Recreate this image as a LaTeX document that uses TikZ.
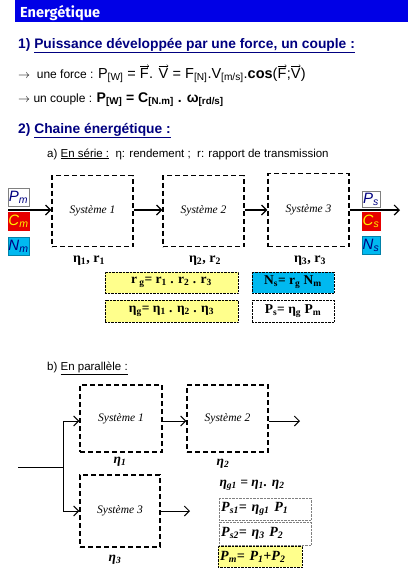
\documentclass[tikz,border=0pt]{standalone}
\usepackage{fontspec}
\setmainfont{Liberation Serif}
\setsansfont{Liberation Sans}
\newfontfamily\titlefont{Fira Sans}
\usetikzlibrary{arrows.meta}

\definecolor{titleblue}{RGB}{0,0,230}
\definecolor{headblue}{RGB}{0,0,128}
\definecolor{boxyellow}{RGB}{255,255,140}
\definecolor{boxcyan}{RGB}{0,185,240}
\definecolor{boxred}{RGB}{230,0,0}

% vector arrow drawn over a letter
\newcommand{\vv}[1]{\tikz[baseline=(v.base)]{\node[inner sep=0pt] (v) {#1};
    \draw[-{Straight Barb[length=1.5pt,width=3pt]}, line width=0.4pt]
      ([yshift=1.8pt,xshift=0.5pt]v.north west) -- ([yshift=1.8pt]v.north east);}}
\newcommand{\sub}[1]{\textsubscript{#1}}

\tikzset{
  sysbox/.style={draw, line width=1.3pt, dash pattern=on 5pt off 3pt,
    minimum width=81pt, minimum height=71pt, inner sep=0pt,
    font=\fontsize{11.5}{13}\selectfont\itshape},
  flow/.style={-{Straight Barb[length=5pt,width=10pt]}, line width=1.2pt},
  tag/.style={draw=gray, minimum width=21pt, minimum height=18pt, inner sep=0pt,
    font=\sffamily\itshape\fontsize{15}{15}\selectfont},
  relbox/.style={draw, densely dotted, minimum width=133pt, minimum height=21pt,
    inner sep=0pt, font=\bfseries\fontsize{13.5}{15}\selectfont},
  eqbox/.style={draw=gray, densely dotted, text width=88pt, align=left,
    minimum height=22pt, inner sep=2pt, anchor=west,
    font=\bfseries\itshape\fontsize{14}{16}\selectfont},
  eta/.style={font=\bfseries\fontsize{14}{16}\selectfont},
  head/.style={anchor=base west, inner sep=0pt, text=headblue, font=\sffamily\bfseries\fontsize{13.8}{16}\selectfont},
}

\begin{document}
\begin{tikzpicture}[x=1pt,y=-1pt]
    \useasboundingbox (0,0) rectangle (408,576);

    % title
    \fill[titleblue] (15,0) rectangle (408,22);
    \node[anchor=base west, inner sep=0pt, text=white, font=\titlefont\bfseries\fontsize{14.5}{16}\selectfont] (title) at (20,17) {Energétique};

    % 1) puissance
    \node[head] (h1) at (18,48) {1) \underline{Puissance développée par une force, un couple :}};
    \node[anchor=base west, inner sep=0pt, font=\sffamily\fontsize{12}{14}\selectfont] (force) at (18,78)
        {$\rightarrow$\ \ une force : \fontsize{14.5}{16}\selectfont P\sub{[W]} = \vv{F}. \vv{V} = F\sub{[N]}.V\sub{[m/s]}.\textbf{cos}(\vv{F};\vv{V})};
    \node[anchor=base west, inner sep=0pt, font=\sffamily\fontsize{12}{14}\selectfont] (couple) at (18,102)
        {$\rightarrow$\ un couple : \fontsize{14}{16}\selectfont\bfseries P\sub{[W]} = C\sub{[N.m]} . ω\sub{[rd/s]}};

    % 2) chaine
    \node[head] (h2) at (18,133) {2) \underline{Chaine énergétique :}};
    \node[anchor=base west, inner sep=0pt, font=\sffamily\fontsize{11.5}{13}\selectfont] (serie) at (47,157)
        {a) \underline{En série :}\ \ η: rendement ;\ \ r: rapport de transmission};

    % chaine en serie
    \node[sysbox] (sys1) at (92.5,211) {Système 1};
    \node[sysbox] (sys2) at (203.5,211) {Système 2};
    \node[sysbox, minimum height=73pt] (sys3) at (308.5,210) {Système 3};

    \coordinate (in) at (8,210);
    \coordinate (out) at (400,210);
    \draw[flow] (in) -- (sys1.west |- in);
    \draw[flow] (sys1.east |- in) -- (sys2.west |- in);
    \draw[flow] (sys2.east |- in) -- (sys3.west |- in);
    \draw[flow] (sys3.east |- out) -- (out);

    \node[tag, text=headblue] (pm) at (18.5,197.5) {P\sub{m}};
    \node[tag, fill=boxred, draw=boxred, text=yellow] (cm) at (18.5,221) {C\sub{m}};
    \node[tag, fill=boxcyan, draw=boxcyan!70!black, text=headblue] (nm) at (18.5,246) {N\sub{m}};
    \node[tag, minimum width=18pt, minimum height=16pt, text=headblue] (ps) at (371,199) {P\sub{s}};
    \node[tag, minimum width=18pt, fill=boxred, draw=boxred, text=yellow] (cs) at (371,221.5) {C\sub{s}};
    \node[tag, minimum width=18pt, fill=boxcyan, draw=boxcyan!70!black, text=headblue] (ns) at (371,245.5) {N\sub{s}};

    \node[eta] (er1) at (89,261) {η\sub{1}, r\sub{1}};
    \node[eta] (er2) at (205,261) {η\sub{2}, r\sub{2}};
    \node[eta] (er3) at (310,261) {η\sub{3}, r\sub{3}};

    \node[relbox, fill=boxyellow] (rg) at (171.5,282.5) {r\sub{ g}= r\sub{1} . r\sub{2} . r\sub{3}};
    \node[relbox, fill=boxyellow, minimum height=22pt] (etag) at (171.5,311) {η\sub{g}= η\sub{1} . η\sub{2} . η\sub{3}};
    \node[relbox, fill=boxcyan, minimum width=82pt] (nsr) at (293,282.5) {N\sub{s}= r\sub{g} N\sub{m}};
    \node[relbox, minimum width=82pt, minimum height=22pt] (psr) at (293,311) {P\sub{s}= η\sub{g} P\sub{m}};

    % chaine en parallele
    \node[anchor=base west, inner sep=0pt, font=\sffamily\fontsize{11.5}{13}\selectfont] (para) at (47,370)
        {b) \underline{En parallèle :}};

    \node[sysbox, minimum width=82pt, minimum height=67pt] (psys1) at (121,418.5) {Système 1};
    \node[sysbox, minimum height=67pt] (psys2) at (227.5,418.5) {Système 2};
    \node[sysbox, minimum width=80pt, minimum height=72pt] (psys3) at (120,511) {Système 3};

    \coordinate (pin) at (18,467);
    \coordinate (pout1) at (300,421);
    \coordinate (pout3) at (190,511);
    \draw[line width=1pt] (pin) -- (63,467);
    \draw[flow, line width=1pt] (63,467) |- (psys1.west |- pout1);
    \draw[flow, line width=1pt] (63,467) |- (psys3.west);
    \draw[flow, line width=1pt] (psys1.east |- pout1) -- (psys2.west |- pout1);
    \draw[flow, line width=1pt] (psys2.east |- pout1) -- (pout1);
    \draw[flow, line width=1pt] (psys3.east) -- (pout3);

    \node[eta, font=\bfseries\itshape\fontsize{13.5}{15}\selectfont] (e1) at (120,462) {η\sub{1}};
    \node[eta, font=\bfseries\itshape\fontsize{13.5}{15}\selectfont] (e2) at (223,464) {η\sub{2}};
    \node[eta, font=\bfseries\itshape\fontsize{13.5}{15}\selectfont] (e3) at (115,560) {η\sub{3}};

    \node[anchor=west, font=\bfseries\itshape\fontsize{13.5}{15}\selectfont] (eg1) at (216,485) {η\sub{g1} = η\sub{1}. η\sub{2}};
    \node[eqbox] (ps1) at (219,509) {P\sub{s1}= η\sub{g1} P\sub{1}};
    \node[eqbox, minimum height=23pt] (ps2) at (219,533.5) {P\sub{s2}= η\sub{3} P\sub{2}};
    \node[eqbox, draw=black, fill=boxyellow, text width=80pt, minimum height=21pt] (pmr) at (218,556.5) {P\sub{m}= P\sub{1}+P\sub{2}};

\end{tikzpicture}
\end{document}
